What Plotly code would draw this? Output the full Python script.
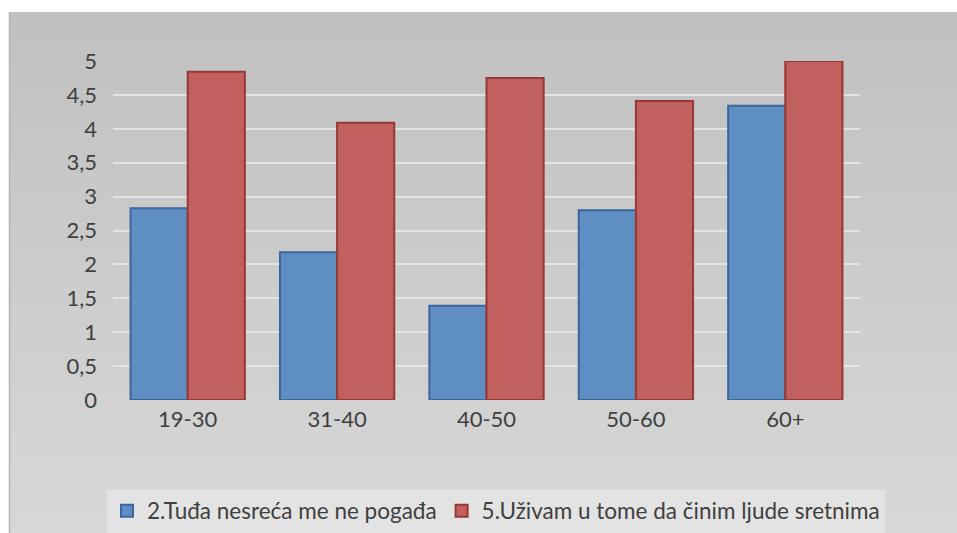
import plotly.graph_objects as go

categories = ["19-30", "31-40", "40-50", "50-60", "60+"]
series1_name = "2.Tuđa nesreća me ne pogađa"
series1_values = [2.83, 2.18, 1.39, 2.80, 4.34]
series2_name = "5.Uživam u tome da činim ljude sretnima"
series2_values = [4.84, 4.09, 4.75, 4.41, 5.00]
y_tick_values = [0, 0.5, 1, 1.5, 2, 2.5, 3, 3.5, 4, 4.5, 5]

W, H = 957, 533
# plot area in screen pixels
SX0, SX1, SY0, SY1 = 113, 860, 61, 400
L, R, T, B = SX0, W - SX1, SY0, H - SY1
pw, ph = W - L - R, H - T - B

def px2paper_x(px):
    return (px - L) / pw

def px2paper_y(py):
    return (H - B - py) / ph

fig = go.Figure()
fig.add_trace(go.Bar(
    x=categories, y=series1_values, name=series1_name,
    marker=dict(color="#5f8ec3", line=dict(color="#3b659c", width=2)),
))
fig.add_trace(go.Bar(
    x=categories, y=series2_values, name=series2_name,
    marker=dict(color="#c1605e", line=dict(color="#963836", width=2)),
))

# gradient background
shapes = []
top_px, bot_px = 12, 540
n = 40
c0 = (192, 192, 192)
c1 = (216, 216, 216)
for i in range(n):
    y0 = top_px + (bot_px - top_px) * i / n
    y1 = top_px + (bot_px - top_px) * (i + 1) / n
    t = (i + 0.5) / n
    c = tuple(int(round(c0[k] + (c1[k] - c0[k]) * t)) for k in range(3))
    shapes.append(dict(
        type="rect", xref="paper", yref="paper", layer="below",
        x0=px2paper_x(10), x1=px2paper_x(W + 10),
        y0=px2paper_y(y1 + 0.5), y1=px2paper_y(y0),
        fillcolor="rgb(%d,%d,%d)" % c, line=dict(width=0),
    ))
shapes.append(dict(
    type="line", xref="paper", yref="paper", layer="below",
    x0=px2paper_x(9.5), x1=px2paper_x(9.5),
    y0=px2paper_y(12), y1=px2paper_y(H + 10),
    line=dict(color="#b4b4b4", width=1.5),
))

fig.update_layout(
    width=W, height=H,
    margin=dict(l=L, r=R, t=T, b=B, autoexpand=False),
    paper_bgcolor="white",
    plot_bgcolor="rgba(0,0,0,0)",
    barmode="group",
    bargap=0.235,
    bargroupgap=0,
    separators=", ",
    font=dict(family="Lato", size=22, color="#404040"),
    shapes=shapes,
    showlegend=True,
    legend=dict(
        orientation="h",
        x=px2paper_x(107), xanchor="left",
        y=px2paper_y(511), yanchor="middle",
        bgcolor="#e3e3e3", font=dict(size=22.5, color="#404040"),
        itemwidth=30, traceorder="normal",
    ),
    xaxis=dict(
        showgrid=False, showline=False, ticks="", automargin=False,
        tickfont=dict(size=22, color="#404040"),
        ticklabelstandoff=4,
    ),
    yaxis=dict(
        range=[0, 5], tickvals=y_tick_values, automargin=False,
        showgrid=True, gridcolor="#e4e4e4", gridwidth=1.5,
        zeroline=False, showline=False, ticks="",
        tickfont=dict(size=22, color="#404040"),
        ticklabelstandoff=15,
    ),
)

fig.write_html(
    "out.html",
    config={"displayModeBar": False},
    post_script="document.body.style.margin='0';document.body.style.overflow='hidden';",
)
